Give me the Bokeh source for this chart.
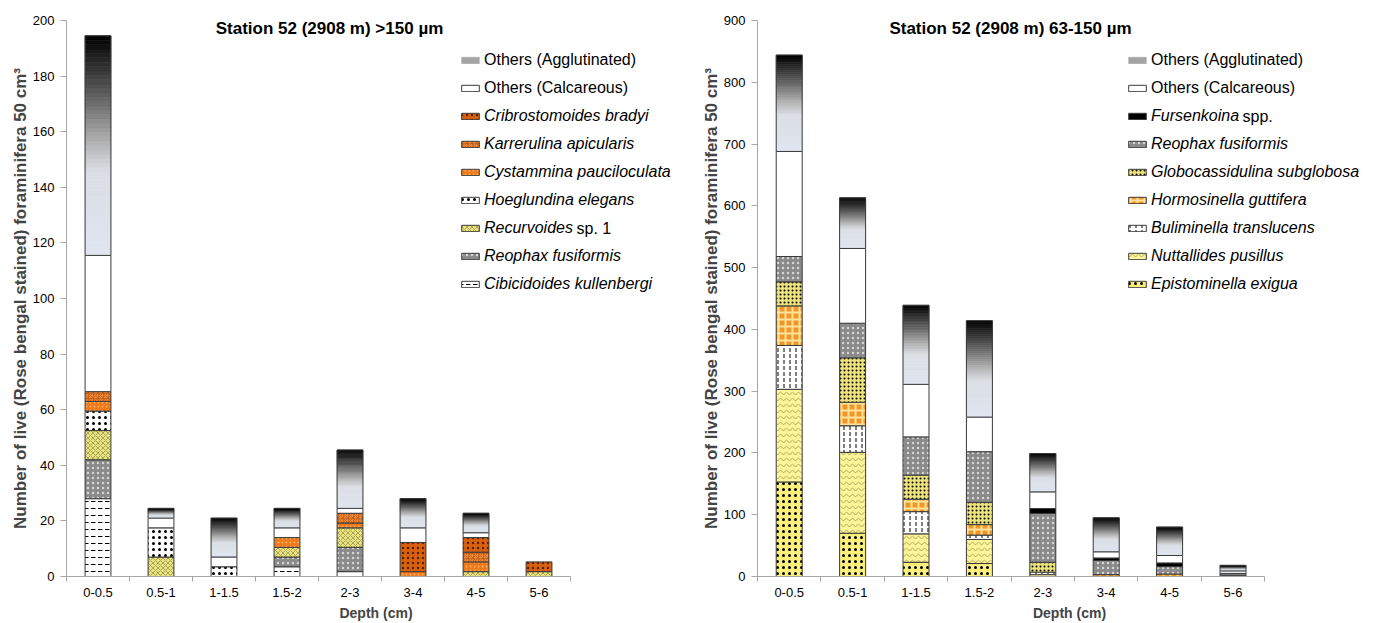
from bokeh.plotting import figure
from bokeh.models import Range1d, FixedTicker, Legend, LegendItem, Label, ColumnDataSource
from bokeh.layouts import row
from bokeh.embed import file_html
from bokeh.resources import INLINE

# ---------------- data ----------------
depths = ["0-0.5", "0.5-1", "1-1.5", "1.5-2", "2-3", "3-4", "4-5", "5-6"]

# Station 52 >150 um (stacking order bottom -> top)
L_cibicidoides = [28, 0, 0, 3.5, 1.75, 0, 0, 0]
L_reophax = [14, 0, 0, 3.5, 8.75, 0, 0, 0]
L_recurvoides = [10.5, 7, 0, 3.5, 7, 0, 1.75, 1.75]
L_hoeglundina = [7, 10.5, 3.5, 0, 0, 0, 0, 0]
L_cystammina = [3.5, 0, 0, 3.5, 1.75, 1.75, 3.5, 0]
L_karrerulina = [3.5, 0, 0, 0, 3.5, 0, 3.5, 0]
L_cribrostomoides = [0, 0, 0, 0, 0, 10.5, 5.25, 3.5]
L_calcareous = [49, 3.5, 3.5, 3.5, 1.75, 5.25, 1.75, 0]
L_agglutinated = [79, 3.5, 14, 7, 21, 10.5, 7, 0]

# Station 52 63-150 um (stacking order bottom -> top)
R_epistominella = [153, 70, 23, 21, 0, 0, 0, 0]
R_nuttallides = [150, 131, 46, 39, 3, 0, 0, 0]
R_buliminella = [71, 43, 36, 7, 4, 0, 0, 2]
R_hormosinella = [64, 38, 20, 17, 0, 3, 4, 0]
R_globocassidulina = [39, 72, 39, 36, 16, 0, 0, 0]
R_reophax = [41, 56, 62, 82, 79, 23, 12, 3]
R_fursenkoina = [0, 0, 0, 0, 8, 4, 6, 0]
R_calcareous = [170, 121, 85, 56, 27, 10, 12, 4]
R_agglutinated = [156, 82, 128, 156, 62, 55, 46, 9]

left_ticks = list(range(0, 201, 20))
right_ticks = list(range(0, 901, 100))

FONT = "Liberation Sans"
OUTLINE = "#3a3a3a"
AXIS_GREY = "#a6a6a6"

# ---------------- styles ----------------
S = {
    "Cibicidoides kullenbergi": dict(fill_color="white", hatch_pattern="horizontal_dash", hatch_color="black", hatch_scale=7, hatch_weight=1),
    "Reophax fusiformis": dict(fill_color="#8a8a8a", hatch_pattern="dot", hatch_color="#d4d4d4", hatch_scale=5, hatch_weight=0.8),
    "Recurvoides sp. 1": dict(fill_color="#e9e37e", hatch_pattern="diagonal_cross", hatch_color="#9a9450", hatch_scale=5, hatch_weight=0.8),
    "Hoeglundina elegans": dict(fill_color="white", hatch_pattern="dot", hatch_color="black", hatch_scale=6, hatch_weight=3),
    "Cystammina pauciloculata": dict(fill_color="#f07818", hatch_pattern="dot", hatch_color="#f8b068", hatch_scale=4, hatch_weight=0.6),
    "Karrerulina apicularis": dict(fill_color="#f08838", hatch_pattern="criss_cross", hatch_color="#c0601c", hatch_scale=5, hatch_weight=0.8),
    "Cribrostomoides bradyi": dict(fill_color="#d8600e", hatch_pattern="dot", hatch_color="#5a2200", hatch_scale=5, hatch_weight=1),
    "Others (Calcareous)": dict(fill_color="white"),
    "Epistominella exigua": dict(fill_color="#fbf07a", hatch_pattern="dot", hatch_color="black", hatch_scale=6, hatch_weight=2.2),
    "Nuttallides pusillus": dict(fill_color="#fdf59a", hatch_pattern="horizontal_wave", hatch_color="#a09048", hatch_scale=6, hatch_weight=0.8),
    "Buliminella translucens": dict(fill_color="white", hatch_pattern="vertical_dash", hatch_color="black", hatch_scale=6, hatch_weight=1),
    "Hormosinella guttifera": dict(fill_color="#f39628", hatch_pattern="cross", hatch_color="#fde39a", hatch_scale=7, hatch_weight=2),
    "Globocassidulina subglobosa": dict(fill_color="#ebe27a", hatch_pattern="dot", hatch_color="black", hatch_scale=4, hatch_weight=0.7),
    "Fursenkoina spp.": dict(fill_color="black"),
}

STOPS = [(0.0, (223, 229, 240)), (0.38, (219, 222, 229)), (0.52, (176, 176, 176)),
         (0.7, (106, 106, 106)), (0.87, (45, 45, 45)), (1.0, (0, 0, 0))]
NSLICE = 50


def grad(t):
    for (t0, c0), (t1, c1) in zip(STOPS[:-1], STOPS[1:]):
        if t <= t1:
            f = (t - t0) / (t1 - t0)
            c = [round(a + (b - a) * f) for a, b in zip(c0, c1)]
            return "#%02x%02x%02x" % tuple(c)
    return "#000000"


def make_fig(width, bl, br, xmax, ymax, ticks):
    p = figure(width=width, height=623, x_range=Range1d(-0.5, xmax), y_range=Range1d(0, ymax),
               output_backend="svg", toolbar_location=None,
               min_border_left=bl, min_border_right=br, min_border_top=20, min_border_bottom=47)
    p.outline_line_color = None
    p.grid.visible = False
    p.background_fill_color = "white"
    xa = p.xaxis[0]
    xa.bounds = (-0.5, 7.5)
    xa.ticker = FixedTicker(ticks=list(range(8)), minor_ticks=[i - 0.5 for i in range(9)])
    xa.major_label_overrides = {i: d for i, d in enumerate(depths)}
    xa.major_tick_line_color = None
    xa.major_tick_out = 5
    xa.major_tick_in = 0
    xa.minor_tick_out = 5
    xa.minor_tick_in = 0
    xa.minor_tick_line_color = AXIS_GREY
    xa.axis_line_color = AXIS_GREY
    xa.major_label_standoff = 6
    xa.major_label_text_font = FONT
    xa.major_label_text_font_size = "13px"
    xa.major_label_text_color = "black"
    xa.axis_label = "Depth (cm)"
    xa.axis_label_text_font = FONT
    xa.axis_label_text_font_size = "14px"
    xa.axis_label_text_font_style = "bold"
    xa.axis_label_standoff = 5
    ya = p.yaxis[0]
    ya.ticker = FixedTicker(ticks=ticks, minor_ticks=[])
    ya.major_tick_out = 6
    ya.major_tick_in = 0
    ya.major_tick_line_color = AXIS_GREY
    ya.minor_tick_line_color = None
    ya.axis_line_color = AXIS_GREY
    ya.major_label_standoff = 6
    ya.major_label_text_font = FONT
    ya.major_label_text_font_size = "13px"
    ya.major_label_text_color = "black"
    ya.axis_label = "Number of live (Rose bengal stained) foraminifera 50 cm\u00b3"
    ya.axis_label_text_font = FONT
    ya.axis_label_text_font_size = "17px"
    ya.axis_label_text_font_style = "bold"
    ya.axis_label_standoff = 0
    return p


def stack(p, series, bw):
    base = [0.0] * len(depths)
    rends = {}
    for name, vals in series:
        xs, bs, ts = [], [], []
        for i, (b, v) in enumerate(zip(base, vals)):
            if v > 0:
                xs.append(i); bs.append(b); ts.append(b + v)
        if name == "Others (Agglutinated)":
            gx, gb, gt, gc = [], [], [], []
            for x, b, t in zip(xs, bs, ts):
                for k in range(NSLICE):
                    t0, t1 = k / NSLICE, (k + 1) / NSLICE
                    gx.append(x); gb.append(b + (t - b) * t0); gt.append(b + (t - b) * t1)
                    gc.append(grad((t0 + t1) / 2))
            g = p.vbar(x=gx, bottom=gb, top=gt, width=bw, fill_color=gc, line_color=gc, line_width=0.6)
            p.vbar(x=xs, bottom=bs, top=ts, width=bw, fill_color=None, line_color=OUTLINE, line_width=1)
            rends[name] = (g, 27)
        else:
            src = ColumnDataSource(dict(x=xs, bottom=bs, top=ts))
            rends[name] = (p.vbar(x="x", bottom="bottom", top="top", width=bw, source=src,
                                  line_color=OUTLINE, line_width=1, **S[name]), None)
        base = [b + v for b, v in zip(base, vals)]
    return rends


def add_legends(p, rends, normal_names, italic_names, vx, frame_h, top):
    common = dict(orientation="vertical", glyph_width=22, glyph_height=8, label_standoff=3,
                  spacing=8, padding=0, margin=0, border_line_color=None, background_fill_alpha=0,
                  label_text_font=FONT, label_text_font_size="16px", label_height=20,
                  label_text_color="black")

    def item(lab, n):
        r, idx = rends[n]
        return LegendItem(label=lab, renderers=[r], index=idx)

    h1 = len(normal_names) * 20 + (len(normal_names) - 1) * 8
    l1 = Legend(items=[item(n, n) for n in normal_names],
                location=(vx, frame_h - top - h1), label_text_font_style="normal", **common)
    top2 = top + h1 + 8
    h2 = len(italic_names) * 20 + (len(italic_names) - 1) * 8
    labels2 = [n.replace(" sp. 1", "").replace(" spp.", "") for n in italic_names]
    l2 = Legend(items=[item(lab, n) for lab, n in zip(labels2, italic_names)],
                location=(vx, frame_h - top2 - h2), label_text_font_style="italic", **common)
    p.add_layout(l1)
    p.add_layout(l2)
    return top2


def label(p, x, y, text, style="normal", size="16px", align="left"):
    p.add_layout(Label(x=x, y=y, x_units="screen", y_units="screen", text=text,
                       text_font=FONT, text_font_size=size, text_font_style=style,
                       text_align=align, text_baseline="middle", text_color="black"))


FH = 556
LTOP = 30

# ---------------- left chart ----------------
p1 = make_fig(690, 66, 5, 9.325, 200, left_ticks)
left_series = [
    ("Cibicidoides kullenbergi", L_cibicidoides),
    ("Reophax fusiformis", L_reophax),
    ("Recurvoides sp. 1", L_recurvoides),
    ("Hoeglundina elegans", L_hoeglundina),
    ("Cystammina pauciloculata", L_cystammina),
    ("Karrerulina apicularis", L_karrerulina),
    ("Cribrostomoides bradyi", L_cribrostomoides),
    ("Others (Calcareous)", L_calcareous),
    ("Others (Agglutinated)", L_agglutinated),
]
r1 = stack(p1, left_series, 0.41)
top2 = add_legends(p1, r1, ["Others (Agglutinated)", "Others (Calcareous)"],
                   ["Cribrostomoides bradyi", "Karrerulina apicularis", "Cystammina pauciloculata",
                    "Hoeglundina elegans", "Recurvoides sp. 1", "Reophax fusiformis",
                    "Cibicidoides kullenbergi"], 393, FH, LTOP)
label(p1, 510, FH - (top2 + 4 * 28 + 10), "sp. 1")
label(p1, 263, FH - 8, "Station 52 (2908 m) >150 \u00b5m", style="bold", size="17px", align="center")

# ---------------- right chart ----------------
p2 = make_fig(696, 67, 5, 9.342, 900, right_ticks)
right_series = [
    ("Epistominella exigua", R_epistominella),
    ("Nuttallides pusillus", R_nuttallides),
    ("Buliminella translucens", R_buliminella),
    ("Hormosinella guttifera", R_hormosinella),
    ("Globocassidulina subglobosa", R_globocassidulina),
    ("Reophax fusiformis", R_reophax),
    ("Fursenkoina spp.", R_fursenkoina),
    ("Others (Calcareous)", R_calcareous),
    ("Others (Agglutinated)", R_agglutinated),
]
r2 = stack(p2, right_series, 0.41)
top2r = add_legends(p2, r2, ["Others (Agglutinated)", "Others (Calcareous)"],
                    ["Fursenkoina spp.", "Reophax fusiformis", "Globocassidulina subglobosa",
                     "Hormosinella guttifera", "Buliminella translucens", "Nuttallides pusillus",
                     "Epistominella exigua"], 369, FH, LTOP)
label(p2, 485, FH - (top2r + 10), "spp.")
label(p2, 253, FH - 8, "Station 52 (2908 m) 63-150 \u00b5m", style="bold", size="17px", align="center")

layout = row(p1, p2)
open("out.html", "w").write(file_html(layout, INLINE))
